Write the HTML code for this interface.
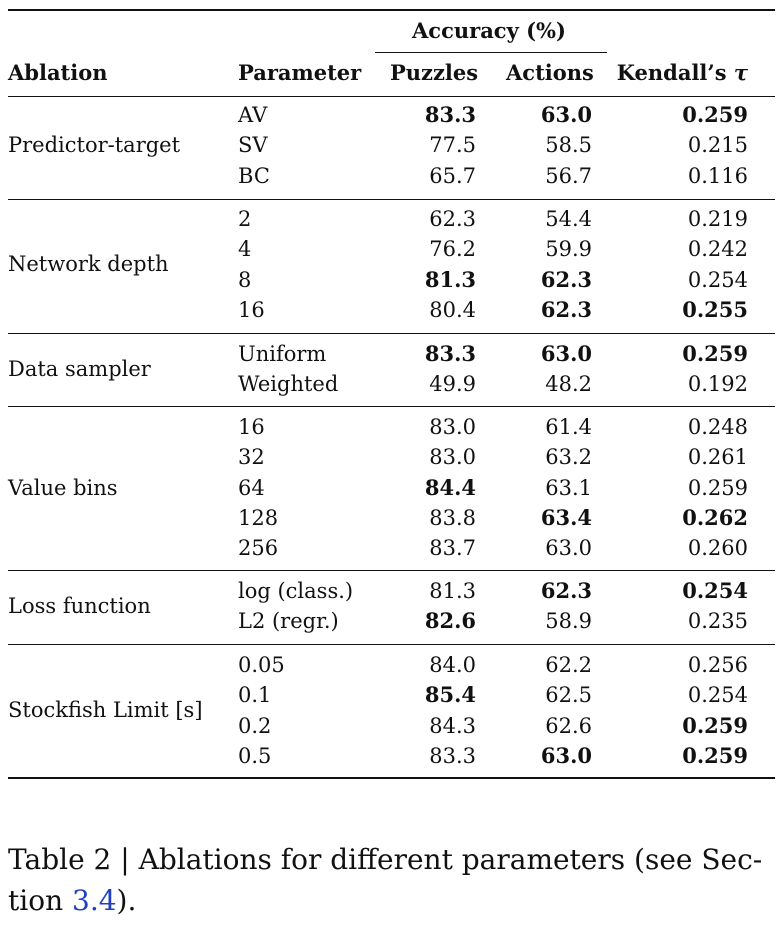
<!DOCTYPE html>
<html><head><meta charset="utf-8"><style>
body{margin:0;width:778px;height:925px;background:#fff;position:relative;font-family:"DejaVu Serif","Liberation Serif",serif;color:#111;overflow:hidden}
.t{position:absolute;font-size:21px;line-height:24px;white-space:nowrap}
.r{text-align:right}
.b{font-weight:bold}
.h{position:absolute;background:#111;height:1px}
.c{position:absolute;font-size:28px;line-height:34px;white-space:nowrap}
</style></head><body>
<div class="h" style="left:8px;width:767px;top:9px;height:2px"></div>
<div class="h" style="left:375px;width:232px;top:52px"></div>
<div class="h" style="left:8px;width:767px;top:96px"></div>
<div class="h" style="left:8px;width:767px;top:199px"></div>
<div class="h" style="left:8px;width:767px;top:333px"></div>
<div class="h" style="left:8px;width:767px;top:406px"></div>
<div class="h" style="left:8px;width:767px;top:570px"></div>
<div class="h" style="left:8px;width:767px;top:644px"></div>
<div class="h" style="left:8px;width:767px;top:777px;height:2px"></div>
<div class="t b" style="left:412px;top:19px">Accuracy (%)</div>
<div class="t b" style="left:8px;top:61px">Ablation</div>
<div class="t b" style="left:238px;top:61px">Parameter</div>
<div class="t b" style="left:390px;top:61px">Puzzles</div>
<div class="t b" style="left:506px;top:61px">Actions</div>
<div class="t b r" style="right:30px;top:61px">Kendall’s <i>τ</i></div>
<div id="rows"></div>
<div class="c" style="left:8px;top:843px">Table 2 | Ablations for different parameters (see Sec-</div>
<div class="c" style="left:8px;top:884px">tion <span style="color:#2040c0">3.4</span>).</div>
<script>
var g=[["Predictor-target",[["AV","*83.3","*63.0","*0.259"],["SV","77.5","58.5","0.215"],["BC","65.7","56.7","0.116"]],115],
["Network depth",[["2","62.3","54.4","0.219"],["4","76.2","59.9","0.242"],["8","*81.3","*62.3","0.254"],["16","80.4","*62.3","*0.255"]],219],
["Data sampler",[["Uniform","*83.3","*63.0","*0.259"],["Weighted","49.9","48.2","0.192"]],354],
["Value bins",[["16","83.0","61.4","0.248"],["32","83.0","63.2","0.261"],["64","*84.4","63.1","0.259"],["128","83.8","*63.4","*0.262"],["256","83.7","63.0","0.260"]],427],
["Loss function",[["log (class.)","81.3","*62.3","*0.254"],["L2 (regr.)","*82.6","58.9","0.235"]],591],
["Stockfish Limit [s]",[["0.05","84.0","62.2","0.256"],["0.1","*85.4","62.5","0.254"],["0.2","84.3","62.6","*0.259"],["0.5","83.3","*63.0","*0.259"]],665]];
var h="",sp=30.3;
function cell(v,right){var b=v[0]=="*";if(b)v=v.slice(1);return '<div class="t r'+(b?' b':'')+'" style="right:'+right+'px;top:TOPpx">'+v+'</div>';}
g.forEach(function(G){var y0=G[2],n=G[1].length;
var mid=y0+sp*(n-1)/2;
h+='<div class="t" style="left:8px;top:'+(mid-12)+'px">'+G[0]+'</div>';
G[1].forEach(function(r,i){var y=y0+i*sp-12;
h+='<div class="t" style="left:238px;top:'+y+'px">'+r[0]+'</div>';
h+=(cell(r[1],302)+cell(r[2],186)+cell(r[3],30)).replace(/TOP/g,y);});});
document.getElementById("rows").innerHTML=h;
</script>
</body></html>
